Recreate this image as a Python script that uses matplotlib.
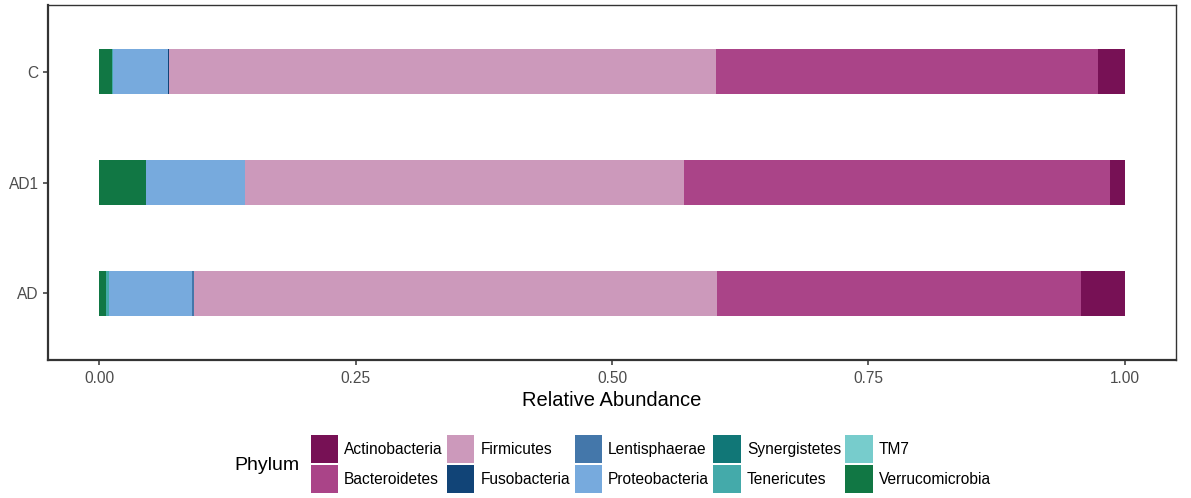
import numpy as np
import matplotlib.pyplot as plt
from matplotlib.patches import Patch

plt.rcParams['font.family'] = ['Liberation Sans', 'DejaVu Sans']

samples = ["AD", "AD1", "C"]
phyla = ["Actinobacteria", "Bacteroidetes", "Firmicutes", "Fusobacteria",
         "Lentisphaerae", "Proteobacteria", "Synergistetes", "Tenericutes",
         "TM7", "Verrucomicrobia"]
colors = ["#771155", "#AA4488", "#CC99BB", "#114477", "#4477AA",
          "#77AADD", "#117777", "#44AAAA", "#77CCCC", "#117744"]

# relative abundance per sample (AD, AD1, C)
actinobacteria = [0.0429, 0.0146, 0.0263]
bacteroidetes = [0.3548, 0.4152, 0.3723]
firmicutes = [0.5102, 0.4279, 0.5331]
fusobacteria = [0.0, 0.0, 0.0010]
lentisphaerae = [0.0015, 0.0, 0.0]
proteobacteria = [0.0809, 0.0965, 0.0536]
synergistetes = [0.0, 0.0, 0.0]
tenericutes = [0.0029, 0.0, 0.0010]
tm7 = [0.0, 0.0, 0.0]
verrucomicrobia = [0.0068, 0.0458, 0.0127]

values = [actinobacteria, bacteroidetes, firmicutes, fusobacteria, lentisphaerae,
          proteobacteria, synergistetes, tenericutes, tm7, verrucomicrobia]

fig = plt.figure(figsize=(11.91, 4.98), dpi=100)
ax = fig.add_axes([48/1191, 1 - 360/498, 1128/1191, 355/498])

y = np.arange(1, len(samples) + 1)
left = np.zeros(len(samples))
# stack from the last phylum at zero up to the first at 1
for name, col, vals in reversed(list(zip(phyla, colors, values))):
    vals = np.array(vals)
    ax.barh(y, vals, left=left, height=0.4, color=col, linewidth=0)
    left += vals

ax.set_xlim(-0.05, 1.05)
ax.set_ylim(0.4, 3.6)
ax.set_yticks(y)
ax.set_yticklabels(samples)
ax.set_xticks([0, 0.25, 0.5, 0.75, 1.0])
ax.set_xticklabels(["0.00", "0.25", "0.50", "0.75", "1.00"])
ax.tick_params(axis='both', colors='#333333', labelcolor='#4D4D4D',
               labelsize=11.2, length=3.7, width=1.1, pad=3)
ax.tick_params(axis='x', pad=4)
ax.set_xlabel("Relative Abundance", fontsize=14.5, color='black', labelpad=3.5)

for side in ['top', 'right']:
    ax.spines[side].set_linewidth(1.0)
    ax.spines[side].set_color('#333333')
for side in ['left', 'bottom']:
    ax.spines[side].set_linewidth(1.6)
    ax.spines[side].set_color('#333333')

handles = [Patch(facecolor=c, edgecolor='none', label=p) for p, c in zip(phyla, colors)]
fig.text(234/1191, 1 - 465/498, "Phylum", fontsize=14, ha='left', va='center')
fig.legend(handles=handles, ncol=5, loc='center left',
           bbox_to_anchor=(303/1191, 1 - 464/498), frameon=False,
           fontsize=11.2, handlelength=1.75, handleheight=2.38,
           handletextpad=0.4, columnspacing=0.28, labelspacing=0.1, borderpad=0)

fig.savefig("out.png", dpi=100)
